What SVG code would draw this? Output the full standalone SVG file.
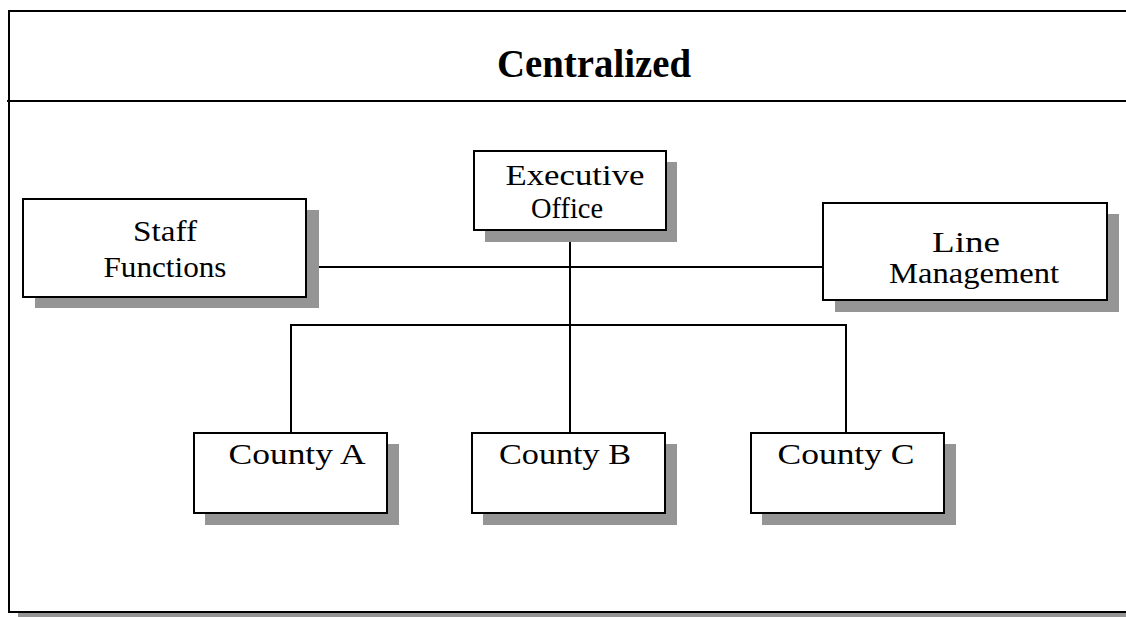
<svg xmlns="http://www.w3.org/2000/svg" width="1126" height="617" viewBox="0 0 1126 617">
  <style>
    .box { fill: #ffffff; stroke: #000000; stroke-width: 2; }
    .shadow { fill: #959595; stroke: none; }
    .frame { fill: none; stroke: #000000; stroke-width: 2; }
    .wire { fill: none; stroke: #000000; stroke-width: 2; }
    .label { font-family: "Liberation Serif", "Times New Roman", serif; font-size: 30px; fill: #000000; text-anchor: middle; }
    .title { font-family: "Liberation Serif", "Times New Roman", serif; font-size: 39px; font-weight: bold; fill: #000000; text-anchor: middle; }
  </style>
  <rect x="0" y="0" width="1126" height="617" fill="#ffffff"/>

  <!-- outer frame with header band -->
  <g id="frame">
    <rect class="shadow" x="18" y="613" width="1108" height="5"/>
    <path class="frame" d="M1127 11 H9 V612 H1127"/>
    <line class="frame" x1="7" y1="101" x2="1127" y2="101"/>
    <text class="title" x="594" y="77" textLength="194" lengthAdjust="spacingAndGlyphs">Centralized</text>
  </g>

  <!-- connectors -->
  <g id="connectors">
    <line class="wire" x1="306" y1="267" x2="823" y2="267"/>
    <line class="wire" x1="570" y1="230" x2="570" y2="433"/>
    <path class="wire" d="M291 433 V325 H846 V433"/>
  </g>

  <g id="executive-office">
    <rect class="shadow" x="485" y="162" width="192" height="80"/>
    <rect class="box" x="474" y="151" width="192" height="79"/>
    <text class="label" x="575" y="185" textLength="139" lengthAdjust="spacingAndGlyphs">Executive</text>
    <text class="label" x="567" y="218" textLength="72" lengthAdjust="spacingAndGlyphs">Office</text>
  </g>

  <g id="staff-functions">
    <rect class="shadow" x="35" y="210" width="284" height="98"/>
    <rect class="box" x="23" y="199" width="283" height="98"/>
    <text class="label" x="165" y="241" textLength="64" lengthAdjust="spacingAndGlyphs">Staff</text>
    <text class="label" x="165" y="277" textLength="123" lengthAdjust="spacingAndGlyphs">Functions</text>
  </g>

  <g id="line-management">
    <rect class="shadow" x="835" y="214" width="284" height="98"/>
    <rect class="box" x="823" y="203" width="284" height="97"/>
    <text class="label" x="966" y="252" textLength="68" lengthAdjust="spacingAndGlyphs">Line</text>
    <text class="label" x="974" y="283" textLength="170" lengthAdjust="spacingAndGlyphs">Management</text>
  </g>

  <g id="county-a">
    <rect class="shadow" x="205" y="444" width="194" height="81"/>
    <rect class="box" x="194" y="433" width="193" height="80"/>
    <text class="label" x="297" y="464" textLength="137" lengthAdjust="spacingAndGlyphs">County A</text>
  </g>

  <g id="county-b">
    <rect class="shadow" x="483" y="444" width="194" height="81"/>
    <rect class="box" x="472" y="433" width="193" height="80"/>
    <text class="label" x="565" y="464" textLength="132" lengthAdjust="spacingAndGlyphs">County B</text>
  </g>

  <g id="county-c">
    <rect class="shadow" x="762" y="444" width="194" height="81"/>
    <rect class="box" x="751" y="433" width="193" height="80"/>
    <text class="label" x="846" y="464" textLength="137" lengthAdjust="spacingAndGlyphs">County C</text>
  </g>
</svg>
